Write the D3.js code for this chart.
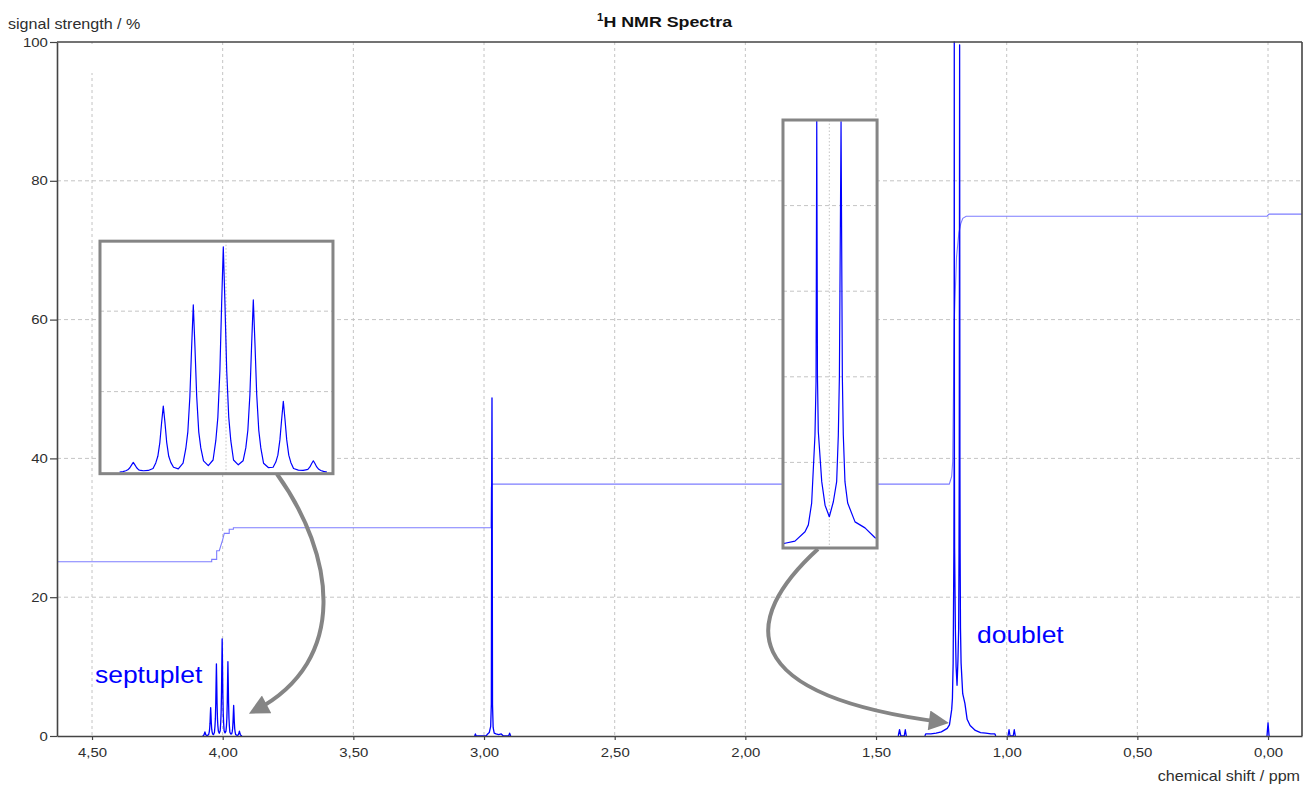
<!DOCTYPE html>
<html>
<head>
<meta charset="utf-8">
<script src="https://cdn.jsdelivr.net/npm/d3@7"></script>
<style>
  body { margin: 0; background: #fff; }
  svg { display: block; font-family: "Liberation Sans", Arial, sans-serif; }
</style>
</head>
<body>
<svg width="1304" height="787"></svg>
<script>
// spectrum pieces as [chemical shift ppm, signal %]
var septuplet = [
  [4.078, 0], [4.0755, 0.03], [4.0735, 0.08], [4.072, 0.14], [4.0705, 0.27], [4.0692, 0.45], [4.068, 0.6],
  [4.0668, 0.45], [4.0655, 0.27], [4.064, 0.14], [4.0625, 0.1], [4.0605, 0.08],
  [4.057, 0.1],
  [4.0535, 0.22], [4.0515, 0.57], [4.050, 0.98], [4.0485, 1.85], [4.0472, 3.1], [4.046, 4.1],
  [4.0448, 3.1], [4.0435, 1.85], [4.042, 0.98], [4.0405, 0.6], [4.0385, 0.3],
  [4.035, 0.2],
  [4.0315, 0.55], [4.0295, 1.45], [4.028, 2.5], [4.0265, 4.7], [4.0252, 7.8], [4.024, 10.4],
  [4.0228, 7.8], [4.0215, 4.7], [4.020, 2.5], [4.0185, 1.5], [4.0165, 0.7],
  [4.013, 0.4],
  [4.0095, 0.75], [4.0075, 1.95], [4.006, 3.4], [4.0045, 6.3], [4.0032, 10.5], [4.002, 14.0],
  [4.0008, 10.5], [3.9995, 6.3], [3.998, 3.4], [3.9965, 1.95], [3.9945, 0.75],
  [3.991, 0.45],
  [3.9875, 0.7], [3.9855, 1.5], [3.984, 2.6], [3.9825, 4.8], [3.9812, 8.0], [3.980, 10.7],
  [3.9788, 8.0], [3.9775, 4.8], [3.976, 2.6], [3.9745, 1.5], [3.9725, 0.55],
  [3.969, 0.28],
  [3.9655, 0.3], [3.9635, 0.62], [3.962, 1.05], [3.9605, 2.0], [3.9592, 3.3], [3.958, 4.4],
  [3.9568, 3.3], [3.9555, 2.0], [3.954, 1.05], [3.9525, 0.6], [3.9505, 0.22],
  [3.947, 0.12],
  [3.9435, 0.1], [3.9415, 0.14], [3.940, 0.17], [3.9385, 0.32], [3.9372, 0.53], [3.936, 0.7],
  [3.9348, 0.53], [3.9335, 0.32], [3.932, 0.17], [3.9305, 0.1], [3.9285, 0.04], [3.926, 0]
];

var singlet = [
  [3.036, 0], [3.033, 0.3], [3.030, 0],
  [2.992, 0], [2.986, 0.3], [2.980, 0.5], [2.9745, 1.4], [2.972, 4.6], [2.9705, 38.6], [2.9695, 48.7], [2.9688, 38.0],
  [2.9675, 4.5], [2.965, 1.2], [2.961, 0.4], [2.954, 0.3], [2.944, 0.2], [2.934, 0.3], [2.926, 0],
  [2.906, 0], [2.902, 0.4], [2.898, 0]
];

var doublet = [
  [1.313, 0], [1.31, 0.3], [1.29, 0.3], [1.27, 0.4], [1.25, 0.6], [1.2274, 1.1], [1.219, 1.6], [1.2105, 3.8],
  [1.2077, 5.4], [1.2049, 10.5], [1.2021, 26.4], [1.2012, 38.9], [1.2006, 100], [1.2000, 40], [1.1993, 27.2],
  [1.1964, 15.5], [1.1936, 10.0], [1.19, 7.3], [1.1866, 10.8], [1.1838, 15.5], [1.1824, 26.4], [1.1815, 40],
  [1.1801, 99.6], [1.1790, 40], [1.1782, 26.4], [1.1768, 15.5], [1.1745, 10.5], [1.1683, 6.1], [1.1599, 4.7],
  [1.1514, 2.4], [1.14, 1.5], [1.12, 0.8], [1.10, 0.5], [1.08, 0.4], [1.06, 0.3], [1.045, 0.3], [1.042, 0]
];

var bumps138 = [[1.415, 0], [1.410, 0.9], [1.405, 0], [1.392, 0], [1.388, 0.9], [1.384, 0]];
var bumps098 = [[0.995, 0], [0.991, 0.9], [0.987, 0], [0.975, 0], [0.971, 0.9], [0.967, 0]];
var tms = [[0.004, 0], [0.0, 1.9], [-0.004, 0]];

// integral curve
var integral = [
  [4.634, 25.1], [4.042, 25.1], [4.042, 25.45], [4.023, 25.45], [4.023, 26.7], [4.013, 26.7], [4.000, 28.3],
  [3.994, 29.2], [3.975, 29.2], [3.975, 29.8], [3.959, 29.8], [3.959, 30.0], [2.9735, 30.0], [2.972, 35.8],
  [2.970, 36.3], [1.2197, 36.3], [1.2105, 37.4], [1.2067, 39.5], [1.2005, 60], [1.192, 69], [1.183, 72.5],
  [1.176, 73.8], [1.168, 74.6], [1.155, 74.9], [0.004, 74.9], [-0.004, 75.2], [-0.13, 75.2]
];

var xTicks = [4.5, 4.0, 3.5, 3.0, 2.5, 2.0, 1.5, 1.0, 0.5, 0.0];
var yTicks = [0, 20, 40, 60, 80, 100];
var yGrid = [20, 40, 60, 80];

var labels = ["septuplet", "doublet"];
var labelAt = [[4.4886, 7.6], [1.1137, 13.36]];

function start() {
  var svg = d3.select("svg"),
      mLeft = 57, mRight = 1302, mTop = 42, mBottom = 736,
      SX = 1.15,            // glyphs in the picture are a bit wide
      textCol = "#2e2e2e", axisCol = "#444", gridCol = "#c4c4c4",
      blue = "#0000ff", integCol = "#7d7dff", boxCol = "#858585";

  var x = d3.scaleLinear().domain([4.634, -0.13]).range([mLeft, mRight]);
  var y = d3.scaleLinear().domain([0, 100]).range([mBottom, mTop]);

  var defs = svg.append("defs");

  // grid
  var grid = svg.append("g");
  grid.selectAll(".vg").data(xTicks).enter().append("line")
    .attr("x1", function(d){ return x(d); }).attr("x2", function(d){ return x(d); })
    .attr("y1", mTop).attr("y2", mBottom)
    .attr("stroke", gridCol).attr("stroke-dasharray", "3,3");
  grid.selectAll(".hg").data(yGrid).enter().append("line")
    .attr("x1", mLeft).attr("x2", mRight)
    .attr("y1", function(d){ return y(d); }).attr("y2", function(d){ return y(d); })
    .attr("stroke", gridCol).attr("stroke-dasharray", "4,3");

  // empty legend area hides the top of the first grid line
  svg.append("rect").attr("x", 62).attr("y", 44).attr("width", 100).attr("height", 29).attr("fill", "#fff");

  function lineFn(sx, sy) {
    return d3.line().x(function(d){ return sx(d[0]); }).y(function(d){ return sy(d[1]); });
  }

  svg.append("path").datum(integral).attr("d", lineFn(x, y))
    .attr("fill", "none").attr("stroke", integCol).attr("stroke-width", 1.1);

  [septuplet, singlet, doublet, bumps138, bumps098, tms].forEach(function(s){
    svg.append("path").datum(s).attr("d", lineFn(x, y))
      .attr("fill", "none").attr("stroke", blue).attr("stroke-width", 1.3).attr("stroke-linejoin", "round");
  });

  // magnified insets
  function inset(id, box, xdom, ydom, data, vGrid, hGrid) {
    var x0 = x(box[0]), x1 = x(box[1]), y0 = y(box[2]), y1 = y(box[3]);
    var ix = d3.scaleLinear().domain(xdom).range([x0, x1]);
    var iy = d3.scaleLinear().domain(ydom).range([y1, y0]);
    defs.append("clipPath").attr("id", id).append("rect")
      .attr("x", x0).attr("y", y0).attr("width", x1 - x0).attr("height", y1 - y0);
    var g = svg.append("g");
    g.append("rect").attr("x", x0).attr("y", y0).attr("width", x1 - x0).attr("height", y1 - y0).attr("fill", "#fff");
    var c = g.append("g").attr("clip-path", "url(#" + id + ")");
    c.selectAll(".v").data(vGrid).enter().append("line")
      .attr("x1", function(d){ return ix(d); }).attr("x2", function(d){ return ix(d); })
      .attr("y1", y0).attr("y2", y1)
      .attr("stroke", gridCol).attr("stroke-dasharray", "1.5,2");
    c.selectAll(".h").data(hGrid).enter().append("line")
      .attr("x1", x0).attr("x2", x1)
      .attr("y1", function(d){ return iy(d); }).attr("y2", function(d){ return iy(d); })
      .attr("stroke", gridCol).attr("stroke-dasharray", "4,3");
    c.append("path").datum(data).attr("d", lineFn(ix, iy))
      .attr("fill", "none").attr("stroke", blue).attr("stroke-width", 1.2).attr("stroke-linejoin", "round");
    g.append("rect").attr("x", x0).attr("y", y0).attr("width", x1 - x0).attr("height", y1 - y0)
      .attr("fill", "none").attr("stroke", boxCol).attr("stroke-width", 3);
  }
  inset("clipSept", [4.4695, 3.578, 71.3, 37.8], [4.0924, 3.9216], [-0.1, 14.35], septuplet, [4.0], [5, 10]);
  inset("clipDoub", [1.856, 1.496, 88.76, 27.09], [1.2291, 1.1497], [0, 100], doublet, [1.19], [20, 40, 60, 80]);

  // arrows
  defs.append("marker").attr("id", "head").attr("viewBox", "0 0 10 10")
    .attr("refX", 6).attr("refY", 5).attr("markerUnits", "userSpaceOnUse")
    .attr("markerWidth", 24).attr("markerHeight", 20).attr("orient", "auto")
    .append("path").attr("d", "M0,0L10,5L0,10z").attr("fill", boxCol);

  var arrows = [
    [[3.7922, 37.75], [3.5703, 26.08], [3.5129, 10.95], [3.8725, 3.75]],
    [[1.7221, 26.95], [2.0206, 16.71], [2.0398, 5.91], [1.2515, 2.02]]
  ];
  arrows.forEach(function(a){
    var p = d3.path();
    p.moveTo(x(a[0][0]), y(a[0][1]));
    p.bezierCurveTo(x(a[1][0]), y(a[1][1]), x(a[2][0]), y(a[2][1]), x(a[3][0]), y(a[3][1]));
    svg.append("path").attr("d", p.toString()).attr("fill", "none")
      .attr("stroke", boxCol).attr("stroke-width", 4).attr("marker-end", "url(#head)");
  });

  // peak labels
  labels.forEach(function(t, i){
    svg.append("text").text(t)
      .attr("transform", "translate(" + x(labelAt[i][0]) + "," + y(labelAt[i][1]) + ") scale(" + SX + ",1)")
      .attr("fill", blue).attr("font-size", 23);
  });

  // axes
  var yAxis = d3.axisLeft(y).tickValues(yTicks).tickSize(7).tickSizeOuter(0).tickPadding(1);
  var xAxis = d3.axisBottom(x).tickValues(xTicks).tickSize(4).tickSizeOuter(0).tickPadding(8)
    .tickFormat(function(d){ return d3.format(".2f")(d).replace(".", ","); });

  var ga = svg.append("g").attr("transform", "translate(" + mLeft + ",0)").call(yAxis);
  var gb = svg.append("g").attr("transform", "translate(0," + mBottom + ")").call(xAxis);
  [ga, gb].forEach(function(g){
    g.select(".domain").attr("stroke", axisCol).attr("stroke-width", 1.6);
    g.selectAll(".tick line").attr("stroke", axisCol).attr("stroke-width", 1.2);
    g.selectAll(".tick text").attr("fill", textCol).attr("font-size", 13)
      .attr("font-family", "Liberation Sans, Arial, sans-serif")
      .attr("transform", "scale(" + SX + ",1)");
  });

  svg.append("line").attr("x1", mLeft).attr("x2", mRight).attr("y1", mTop).attr("y2", mTop)
    .attr("stroke", axisCol).attr("stroke-width", 1.6);
  svg.append("line").attr("x1", mRight).attr("x2", mRight).attr("y1", mTop).attr("y2", mBottom)
    .attr("stroke", axisCol).attr("stroke-width", 1.6);

  // titles
  svg.append("text").text("signal strength / %")
    .attr("transform", "translate(8,28.5) scale(" + SX + ",1)")
    .attr("fill", textCol).attr("font-size", 14);

  var title = svg.append("text")
    .attr("transform", "translate(664.5,27) scale(" + SX + ",1)")
    .attr("text-anchor", "middle").attr("fill", "#111").attr("font-weight", "bold").attr("font-size", 15.5);
  title.append("tspan").text("1").attr("font-size", 10).attr("dy", -6);
  title.append("tspan").text("H NMR Spectra").attr("dy", 6);

  svg.append("text").text("chemical shift / ppm")
    .attr("transform", "translate(1300,781) scale(" + SX + ",1)")
    .attr("text-anchor", "end").attr("fill", textCol).attr("font-size", 14);
}

start();
</script>
</body>
</html>
